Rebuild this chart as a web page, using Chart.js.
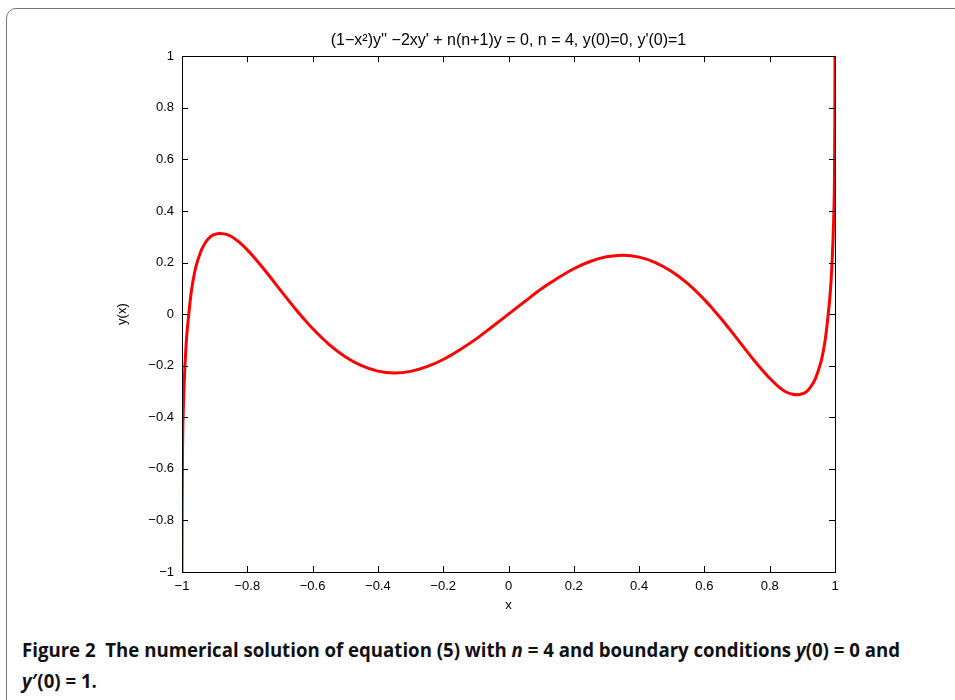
<!DOCTYPE html>
<html>
<head>
<meta charset="utf-8">
<script src="https://cdn.jsdelivr.net/npm/chart.js@4.4.1/dist/chart.umd.min.js"></script>
<style>
  html, body { margin: 0; padding: 0; background: #fff; width: 955px; height: 700px; overflow: hidden; }
  #frame { position: absolute; left: 6px; top: 8px; width: 1000px; height: 800px; border: 1.5px solid #777; border-radius: 10px; box-sizing: border-box; }
  #wrap { position: absolute; left: 0; top: 0; width: 955px; height: 620px; }
  #caption { position: absolute; left: 22px; top: 634px; font-family: "Open Sans", "Noto Sans", sans-serif; font-weight: 700; font-size: 20px; line-height: 31px; color: #111; white-space: nowrap; transform-origin: 0 0; }
  #caption i { font-style: italic; }
</style>
</head>
<body>
<div id="frame"></div>
<div id="wrap"><canvas id="c"></canvas></div>
<div id="caption"><div id="l1">Figure 2&nbsp;&nbsp;The numerical solution of equation (5) with <i>n</i> = 4 and boundary conditions <i>y</i>(0) = 0 and</div><div id="l2"><i>y</i>′(0) = 1.</div></div>
<script>
// ---- data ----
const chartTitle = "(1\u2212x\u00B2)y'' \u22122xy' + n(n+1)y = 0, n = 4, y(0)=0, y'(0)=1";
const xAxisLabel = "x";
const yAxisLabel = "y(x)";
const xValues = [-1.0, -0.9995, -0.998, -0.996, -0.994, -0.991, -0.988, -0.984, -0.98, -0.975, -0.97, -0.96, -0.95, -0.94, -0.93, -0.92, -0.91, -0.90, -0.885, -0.87, -0.85, -0.825, -0.80, -0.775, -0.75, -0.725, -0.70, -0.675, -0.65, -0.625, -0.60, -0.55, -0.50, -0.45, -0.40, -0.35, -0.30, -0.25, -0.20, -0.15, -0.10, -0.05,
  0.0,
  0.05, 0.10, 0.15, 0.20, 0.25, 0.30, 0.35, 0.40, 0.45, 0.50, 0.55, 0.60, 0.625, 0.65, 0.675, 0.70, 0.725, 0.75, 0.775, 0.80, 0.825, 0.85, 0.87, 0.885, 0.90, 0.91, 0.92, 0.93, 0.94, 0.95, 0.96, 0.97, 0.975, 0.98, 0.984, 0.988, 0.991, 0.994, 0.996, 0.998, 0.9995, 1.0];
const yValues = [-1.0, -0.74, -0.49, -0.37, -0.29, -0.20, -0.13, -0.06, -0.01, 0.05, 0.10, 0.17, 0.215, 0.25, 0.274, 0.291, 0.303, 0.309, 0.313, 0.311, 0.302, 0.279, 0.249, 0.214, 0.176, 0.136, 0.095, 0.055, 0.016, -0.021, -0.056, -0.117, -0.165, -0.20, -0.221, -0.228, -0.222, -0.204, -0.176, -0.139, -0.097, -0.049,
  0.0,
  0.049, 0.097, 0.139, 0.176, 0.204, 0.222, 0.228, 0.221, 0.20, 0.165, 0.117, 0.056, 0.021, -0.016, -0.055, -0.095, -0.136, -0.176, -0.214, -0.249, -0.279, -0.302, -0.311, -0.313, -0.309, -0.303, -0.291, -0.274, -0.25, -0.215, -0.17, -0.10, -0.05, 0.01, 0.06, 0.13, 0.20, 0.29, 0.37, 0.49, 0.74, 1.0];
const xTicks = [-1, -0.8, -0.6, -0.4, -0.2, 0, 0.2, 0.4, 0.6, 0.8, 1];
const yTicks = [-1, -0.8, -0.6, -0.4, -0.2, 0, 0.2, 0.4, 0.6, 0.8, 1];

const points = xValues.map((x, i) => ({x: x, y: yValues[i]}));
const fmt = v => String(Math.round(v * 10) / 10).replace('-', '\u2212');
const tickFont = {family: '"Liberation Sans", Arial, sans-serif', size: 13};

const boxTicks = {
  id: 'boxTicks',
  afterDatasetsDraw(chart) {
    const {ctx, chartArea: a, scales} = chart;
    ctx.save();
    ctx.strokeStyle = '#000';
    ctx.lineWidth = 1;
    const L = 6;
    ctx.beginPath();
    xTicks.forEach(v => {
      const px = Math.round(scales.x.getPixelForValue(v)) + 0.5;
      ctx.moveTo(px, a.bottom); ctx.lineTo(px, a.bottom - L);
      ctx.moveTo(px, a.top); ctx.lineTo(px, a.top + L);
    });
    yTicks.forEach(v => {
      const py = Math.round(scales.y.getPixelForValue(v)) + 0.5;
      ctx.moveTo(a.left, py); ctx.lineTo(a.left + L, py);
      ctx.moveTo(a.right, py); ctx.lineTo(a.right - L, py);
    });
    ctx.stroke();
    ctx.strokeRect(Math.round(a.left) + 0.5, Math.round(a.top) + 0.5, Math.round(a.right - a.left), Math.round(a.bottom - a.top));
    ctx.restore();
  }
};

new Chart(document.getElementById('c'), {
  type: 'line',
  data: { datasets: [{
    data: points,
    borderColor: '#ff0000',
    borderWidth: 3,
    pointRadius: 0,
    fill: false,
    cubicInterpolationMode: 'monotone'
  }]},
  options: {
    responsive: true,
    maintainAspectRatio: false,
    animation: false,
    layout: { padding: { left: 111, right: 120, top: 0, bottom: 0 } },
    plugins: {
      legend: { display: false },
      tooltip: { enabled: false },
      title: {
        display: true, text: chartTitle, fullSize: false, color: '#000',
        font: {family: '"Liberation Sans", Arial, sans-serif', size: 16, weight: 'normal'},
        padding: {top: 31, bottom: 6}
      }
    },
    scales: {
      x: {
        type: 'linear', min: -1, max: 1,
        afterBuildTicks: s => { s.ticks = xTicks.map(v => ({value: v})); },
        afterFit: s => { s.height = 48; },
        grid: { display: false, drawTicks: false },
        border: { display: false },
        ticks: { color: '#000', font: tickFont, padding: 7, maxRotation: 0, autoSkip: false, callback: v => fmt(v) },
        title: { display: true, text: xAxisLabel, color: '#000', font: tickFont, padding: {top: 4, bottom: 7} }
      },
      y: {
        type: 'linear', min: -1, max: 1,
        afterBuildTicks: s => { s.ticks = yTicks.map(v => ({value: v})); },
        afterFit: s => { s.width = 71; },
        grid: { display: false, drawTicks: false },
        border: { display: false },
        ticks: { color: '#000', font: tickFont, padding: 8, autoSkip: false, callback: v => fmt(v) },
        title: { display: true, text: yAxisLabel, color: '#000', font: tickFont, padding: {top: 4, bottom: 4} }
      }
    }
  },
  plugins: [boxTicks]
});

// fit caption width to the reference line width
const cap = document.getElementById('caption');
const l1 = document.getElementById('l1');
const w = l1.getBoundingClientRect().width;
const target = 878;
cap.style.transform = 'scaleX(' + (target / w) + ')';
</script>
</body>
</html>
